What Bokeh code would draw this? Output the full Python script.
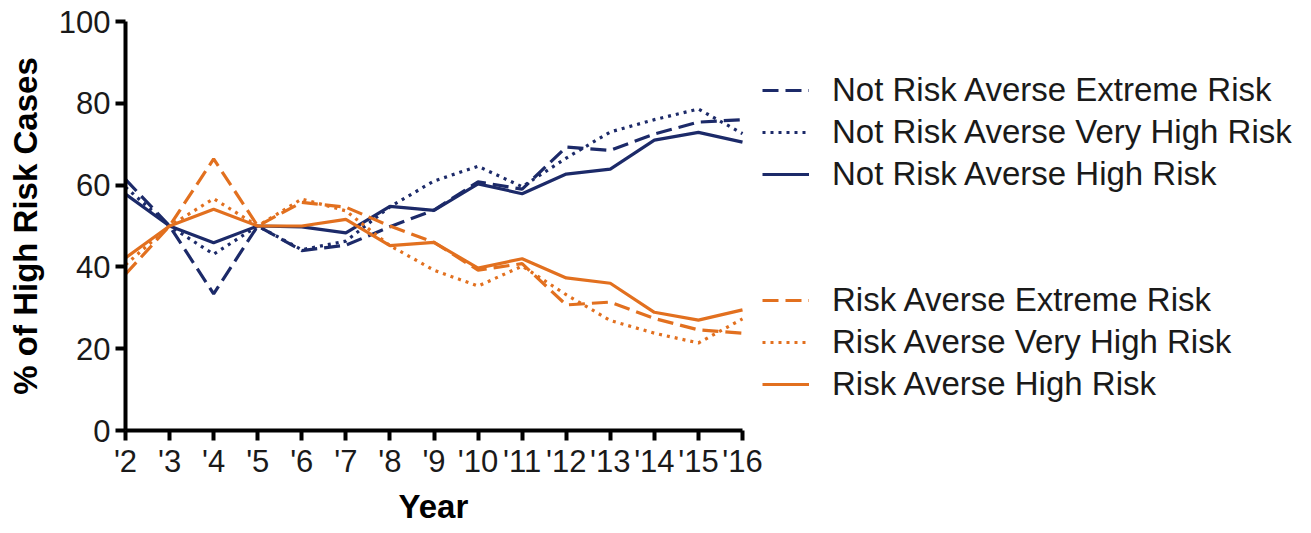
from bokeh.plotting import figure
from bokeh.models import Range1d, FixedTicker, Legend, LegendItem, Title
from bokeh.embed import file_html
from bokeh.resources import INLINE

# ---- data ----
years = [2, 3, 4, 5, 6, 7, 8, 9, 10, 11, 12, 13, 14, 15, 16]
year_labels = ["'2", "'3", "'4", "'5", "'6", "'7", "'8", "'9", "'10", "'11",
               "'12", "'13", "'14", "'15", "'16"]

nra_extreme = [61.4, 50, 33.4, 50, 44.0, 45.3, 49.8, 53.9, 60.8, 59.0, 69.3, 68.5, 72.5, 75.4, 76.0]
nra_very_high = [59.5, 50, 43.1, 50, 44.2, 46.3, 54.7, 61.0, 64.6, 59.6, 66.6, 73.0, 76.0, 78.6, 72.6]
nra_high = [57.8, 50, 45.9, 50, 49.8, 48.3, 54.8, 53.8, 60.3, 57.9, 62.7, 63.9, 71.0, 72.9, 70.5]

ra_extreme = [38.2, 50, 66.4, 50, 55.8, 54.6, 50.0, 46.0, 39.2, 40.8, 30.7, 31.4, 27.4, 24.6, 23.8]
ra_very_high = [40.5, 50, 56.7, 50, 56.6, 53.7, 45.2, 39.2, 35.3, 40.2, 33.2, 26.9, 23.8, 21.4, 27.3]
ra_high = [42.2, 50, 54.1, 50, 50.0, 51.6, 45.2, 46.0, 39.7, 42.0, 37.3, 36.0, 28.9, 27.0, 29.5]

series_labels = ["Not Risk Averse Extreme Risk", "Not Risk Averse Very High Risk",
                 "Not Risk Averse High Risk", "Risk Averse Extreme Risk",
                 "Risk Averse Very High Risk", "Risk Averse High Risk"]

NAVY = "#1c2a69"
ORANGE = "#e2701f"
FONT = "Liberation Sans"

# layout: the data part spans years 2..16 over 617 px; the frame continues right to hold the legend
PLOT_PX = 617
LEFT, TOP = 125, 21
FRAME_W = 1181
FRAME_H = 409
x_end = years[0] + (years[-1] - years[0]) * FRAME_W / PLOT_PX

p = figure(frame_width=FRAME_W, frame_height=FRAME_H, output_backend="svg", toolbar_location=None,
           x_range=Range1d(years[0], x_end), y_range=Range1d(0, 100),
           min_border_left=LEFT, min_border_right=5,
           min_border_top=TOP, min_border_bottom=100)
p.outline_line_color = None
p.xgrid.grid_line_color = None
p.ygrid.grid_line_color = None
p.background_fill_color = "white"
p.border_fill_color = "white"

styles = [
    (nra_extreme, NAVY, "16 7"),
    (nra_very_high, NAVY, "3 5"),
    (nra_high, NAVY, "solid"),
    (ra_extreme, ORANGE, "16 7"),
    (ra_very_high, ORANGE, "3 5"),
    (ra_high, ORANGE, "solid"),
]
renderers = []
for vals, col, dash in styles:
    r = p.line(years, vals, line_color=col, line_width=3.2, line_dash=dash)
    renderers.append(r)

# invisible spacer renderer for the gap between the two legend groups
spacer = p.line([years[0]], [0], line_alpha=0)

# axes
for ax in (p.xaxis[0], p.yaxis[0]):
    ax.axis_line_width = 4
    ax.axis_line_color = "black"
    ax.major_tick_line_width = 4
    ax.major_tick_line_color = "black"
    ax.major_tick_out = 10
    ax.major_tick_in = 0
    ax.minor_tick_line_color = None
    ax.major_label_text_font = FONT
    ax.major_label_text_font_size = "31px"
    ax.major_label_text_color = "#1a1a1a"
    ax.axis_label_text_font = FONT
    ax.axis_label_text_font_size = "33px"
    ax.axis_label_text_font_style = "bold"
    ax.axis_label_text_color = "black"

p.xaxis.bounds = (years[0], years[-1])
p.xaxis.ticker = FixedTicker(ticks=years)
p.xaxis.major_label_overrides = {y: lab for y, lab in zip(years, year_labels)}
p.xaxis.major_label_standoff = 3

p.yaxis.bounds = (0, 100)
p.yaxis.ticker = FixedTicker(ticks=[0, 20, 40, 60, 80, 100])
p.yaxis.major_label_standoff = 5
p.yaxis.axis_label = "% of High Risk Cases"
p.yaxis.axis_label_standoff = 12

# x-axis title, centred under the data part of the frame
xt = Title(text="Year", align="left", offset=273, standoff=8,
           text_font=FONT, text_font_size="33px", text_font_style="bold", text_color="black")
p.add_layout(xt, "below")

items = [LegendItem(label=series_labels[i], renderers=[renderers[i]]) for i in range(3)]
items += [LegendItem(label=" ", renderers=[spacer]), LegendItem(label="  ", renderers=[spacer])]
items += [LegendItem(label=series_labels[i], renderers=[renderers[i]]) for i in range(3, 6)]

lg = Legend(items=items, location=(637, 25), orientation="vertical")
lg.background_fill_alpha = 0
lg.border_line_color = None
lg.padding = 0
lg.margin = 0
lg.spacing = 0
lg.glyph_width = 47
lg.glyph_height = 42
lg.label_height = 42
lg.label_standoff = 23
lg.label_text_font = FONT
lg.label_text_font_size = "33px"
lg.label_text_color = "#1a1a1a"
lg.label_text_baseline = "middle"
lg.click_policy = "none"
p.add_layout(lg)

open("out.html", "w").write(file_html(p, INLINE))
